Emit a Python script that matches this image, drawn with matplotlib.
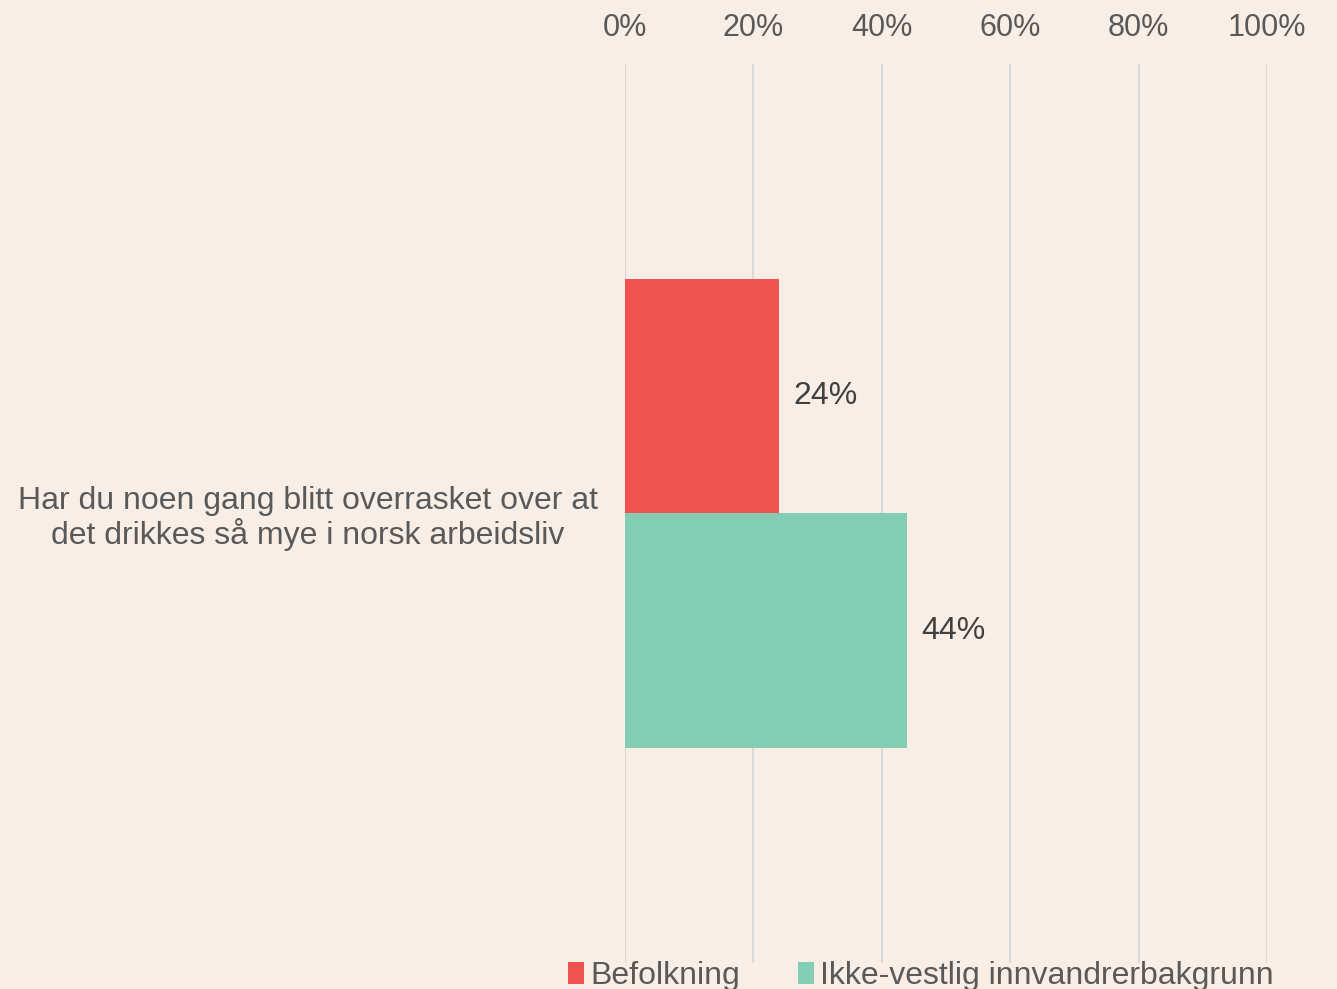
import matplotlib.pyplot as plt
from matplotlib.patches import Patch

# data
question = "Har du noen gang blitt overrasket over at\ndet drikkes så mye i norsk arbeidsliv"
series = ["Befolkning", "Ikke-vestlig innvandrerbakgrunn"]
values = [24, 44]
colors = ["#EF5350", "#83CDB5"]
xticks = [0, 20, 40, 60, 80, 100]

bg = "#F9EEE6"
txt = "#595959"

plt.rcParams['font.family'] = ['Liberation Sans', 'DejaVu Sans']

fig = plt.figure(figsize=(13.37, 9.89), dpi=100, facecolor=bg)
ax = fig.add_axes([625 / 1337, 1 - 963 / 989, 642 / 1337, 899 / 989])
ax.set_facecolor(bg)

h = 235 / 899
offsets = [h / 2, -h / 2]
for name, v, c, off in zip(series, values, colors, offsets):
    ax.barh(off, v, height=h, color=c, zorder=3)
    ax.annotate(f"{v}%", xy=(v, off), xytext=(14, 0), textcoords="offset pixels",
                va="center", ha="left", fontsize=23, color="#404040")

ax.set_xlim(0, 100)
ax.set_ylim(-0.5, 0.5)
ax.set_xticks(xticks)
ax.set_xticklabels([f"{t}%" for t in xticks])
ax.xaxis.tick_top()
ax.tick_params(axis="x", length=0, pad=15, labelsize=22, labelcolor=txt)
ax.grid(axis="x", color="#D9D9D9", linewidth=1.5, zorder=0)

ax.set_yticks([0])
ax.set_yticklabels([question], fontsize=23, color=txt, multialignment="center",
                   linespacing=1.1)
ax.tick_params(axis="y", length=0, pad=19.5)

for s in ax.spines.values():
    s.set_visible(False)

handles = [Patch(facecolor=c, label=n) for n, c in zip(series, colors)]
fig.legend(handles=handles, loc="center", ncol=2, frameon=False,
           bbox_to_anchor=(921 / 1337, 1 - 976 / 989), fontsize=23,
           labelcolor=txt, handlelength=0.5, handleheight=0.7,
           handletextpad=0.2, columnspacing=1.8)

fig.savefig("out.png", dpi=100, facecolor=bg)
